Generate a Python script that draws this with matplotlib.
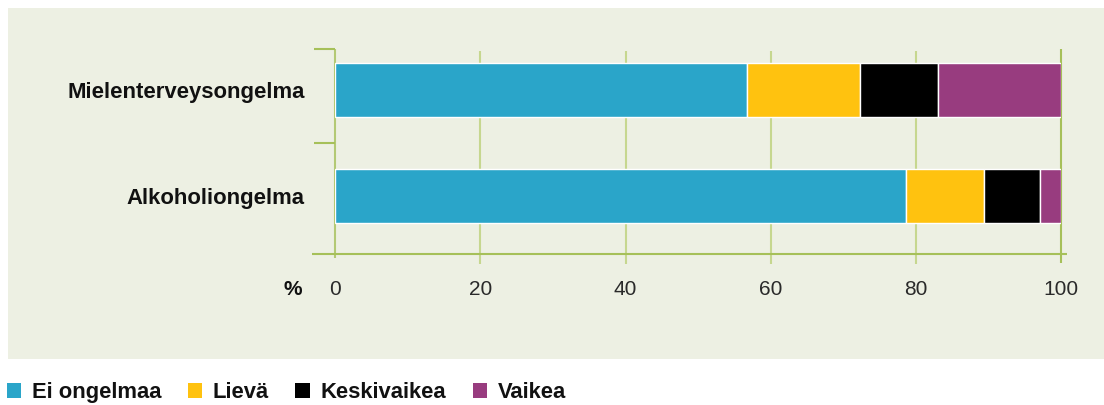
import matplotlib
matplotlib.use("Agg")
import matplotlib.pyplot as plt
import matplotlib.transforms as mtransforms
from matplotlib.patches import Rectangle, Patch
import numpy as np

plt.rcParams['font.family'] = ['Liberation Sans', 'DejaVu Sans']

categories = ["Mielenterveysongelma", "Alkoholiongelma"]
series_names = ["Ei ongelmaa", "Lievä", "Keskivaikea", "Vaikea"]
ei_ongelmaa = [56.8, 78.7]
lieva = [15.5, 10.7]
keskivaikea = [10.8, 7.7]
vaikea = [16.9, 2.9]
xticks = [0, 20, 40, 60, 80, 100]
colors = ["#2AA5C9", "#FFC20F", "#000000", "#983C7F"]

W, H = 1104, 405
fig = plt.figure(figsize=(W / 100, H / 100), dpi=100)
fig.patch.set_facecolor("white")
bg = Rectangle((8 / W, (H - 359) / H), 1 - 8 / W, (359 - 8) / H,
               transform=fig.transFigure, facecolor="#EDF0E3",
               edgecolor="none", zorder=-10)
fig.patches.append(bg)

ax = fig.add_axes([335.3 / W, (H - 254) / H, 725.7 / W, 205 / H])
ax.set_zorder(1)
ax.set_facecolor("none")
for s in ax.spines.values():
    s.set_visible(False)

y = np.arange(len(categories))
left = np.zeros(len(categories))
for vals, c in zip([ei_ongelmaa, lieva, keskivaikea, vaikea], colors):
    ax.barh(y, vals, left=left, height=0.51, color=c, edgecolor="white",
            linewidth=1.0, zorder=3)
    left += np.array(vals)

ax.set_xlim(0, 100)
ax.set_ylim(1.547, -0.387)

grid_light = "#C6D78F"
grid_dark = "#A6C059"
xt = ax.get_xaxis_transform()
for t in xticks:
    if t == 0:
        ax.vlines(t, -0.0195, 1.0, transform=xt, color="#B3C974", lw=1.5,
                  clip_on=False, zorder=1)
    elif t == 100:
        ax.vlines(t, -0.044, 1.0, transform=xt, color=grid_dark, lw=1.5,
                  clip_on=False, zorder=1)
    else:
        ax.vlines(t, -0.0488, 0.99, transform=xt, color=grid_light, lw=1.5,
                  clip_on=False, zorder=1)

ax.hlines(0, -0.032, 1.0083, transform=ax.transAxes, color=grid_dark, lw=1.5,
          clip_on=False, zorder=2)
bt = mtransforms.blended_transform_factory(ax.transAxes, ax.transData)
ax.hlines([0.5], -0.0294, 0, transform=bt, color=grid_dark, lw=1.5,
          clip_on=False, zorder=2)
ax.hlines(1.0, -0.0294, 0, transform=ax.transAxes, color=grid_dark, lw=1.5,
          clip_on=False, zorder=2)

ax.set_xticks(xticks)
ax.set_xticklabels([str(t) for t in xticks])
ax.tick_params(axis="x", length=0, pad=19, labelsize=15, labelcolor="#2a2a2a")
ax.set_yticks(y)
ax.set_yticklabels(categories, fontweight="bold")
ax.tick_params(axis="y", length=0, pad=22, labelsize=15.9, labelcolor="#111111")

ax.text(-0.0459, -0.173, "%", transform=ax.transAxes, ha="right", va="center",
        fontsize=15, fontweight="bold", color="#111111")

handles = [Patch(facecolor=c, edgecolor="none") for c in colors]
leg = fig.legend(handles, series_names, loc="center left",
                 bbox_to_anchor=(0.0, 12.5 / H), ncol=4, frameon=False,
                 handlelength=0.65, handleheight=0.65, handletextpad=0.5,
                 columnspacing=1.2, borderaxespad=0, borderpad=0.3,
                 prop={"size": 15.8, "weight": "bold"})
for t in leg.get_texts():
    t.set_color("#111111")

fig.savefig("out.png", dpi=100, facecolor=fig.get_facecolor())
